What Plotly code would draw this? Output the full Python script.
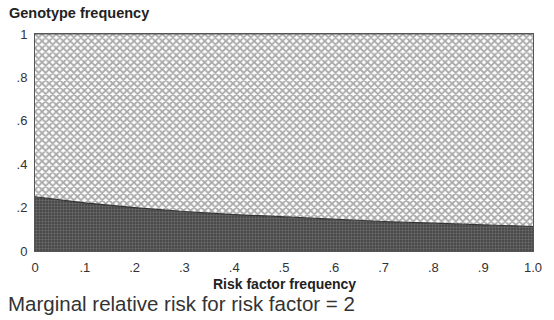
import plotly.graph_objects as go

risk_freq = [0.0, 0.1, 0.2, 0.3, 0.4, 0.5, 0.6, 0.7, 0.8, 0.9, 1.0]
lower_geno = [0.25, 0.222, 0.200, 0.182, 0.168, 0.157, 0.146, 0.136, 0.128, 0.120, 0.113]
upper_geno = [1.0, 1.0, 1.0, 1.0, 1.0, 1.0, 1.0, 1.0, 1.0, 1.0, 1.0]
x_ticks = [0, 0.1, 0.2, 0.3, 0.4, 0.5, 0.6, 0.7, 0.8, 0.9, 1.0]
x_labels = ["0", ".1", ".2", ".3", ".4", ".5", ".6", ".7", ".8", ".9", "1.0"]
y_ticks = [0, 0.2, 0.4, 0.6, 0.8, 1.0]
y_labels = ["0", ".2", ".4", ".6", ".8", "1"]

FONT = "Liberation Sans, Arial, sans-serif"

fig = go.Figure()
fig.add_trace(go.Scatter(
    x=risk_freq, y=lower_geno, mode="lines",
    line=dict(color="#333333", width=1.2),
    fill="tozeroy", fillcolor="#505050",
    fillpattern=dict(shape="+", fgcolor="#9a9a9a", bgcolor="#4a4a4a", size=3, solidity=0.3),
    showlegend=False, hoverinfo="skip"))
fig.add_trace(go.Scatter(
    x=risk_freq, y=upper_geno, mode="lines",
    line=dict(color="#555555", width=1),
    fill="tonexty",
    fillpattern=dict(shape="x", fgcolor="#555555", bgcolor="#ffffff", size=5, solidity=0.6),
    showlegend=False, hoverinfo="skip"))

W, H = 554, 320
pl, pr, pt, pb = 35, 14, 34, 69
pw, ph = W - pl - pr, H - pt - pb
def px(x): return (x - pl) / pw
def py(y): return (H - pb - y) / ph

fig.update_layout(
    width=W, height=H,
    margin=dict(l=pl, r=pr, t=pt, b=pb),
    paper_bgcolor="white", plot_bgcolor="white",
    font=dict(family=FONT, color="#222222"),
    xaxis=dict(range=[0, 1], tickvals=x_ticks, ticktext=x_labels,
               showgrid=False, zeroline=False, showline=True, mirror=True,
               linecolor="#555555", linewidth=1, ticks="", tickfont=dict(size=13, color="#333333"),
               ticklabelstandoff=4),
    yaxis=dict(range=[0, 1], tickvals=y_ticks, ticktext=y_labels,
               showgrid=False, zeroline=False, showline=True, mirror=True,
               linecolor="#555555", linewidth=1, ticks="", tickfont=dict(size=13, color="#333333"),
               ticklabelstandoff=4),
)
fig.add_annotation(text="<b>Genotype frequency</b>", x=px(7), y=py(13), xref="paper", yref="paper",
                   showarrow=False, font=dict(size=14.5, color="#222222"), xanchor="left", yanchor="middle")
fig.add_annotation(text="<b>Risk factor frequency</b>", x=0.5, y=py(284), xref="paper", yref="paper",
                   showarrow=False, font=dict(size=14, color="#222222"), xanchor="center", yanchor="middle")
fig.add_annotation(text="Marginal relative risk for risk factor = 2", x=px(6), y=py(303),
                   xref="paper", yref="paper", showarrow=False, xanchor="left", yanchor="middle",
                   font=dict(size=20.5, color="#333333"))

fig.write_html("out.html")
